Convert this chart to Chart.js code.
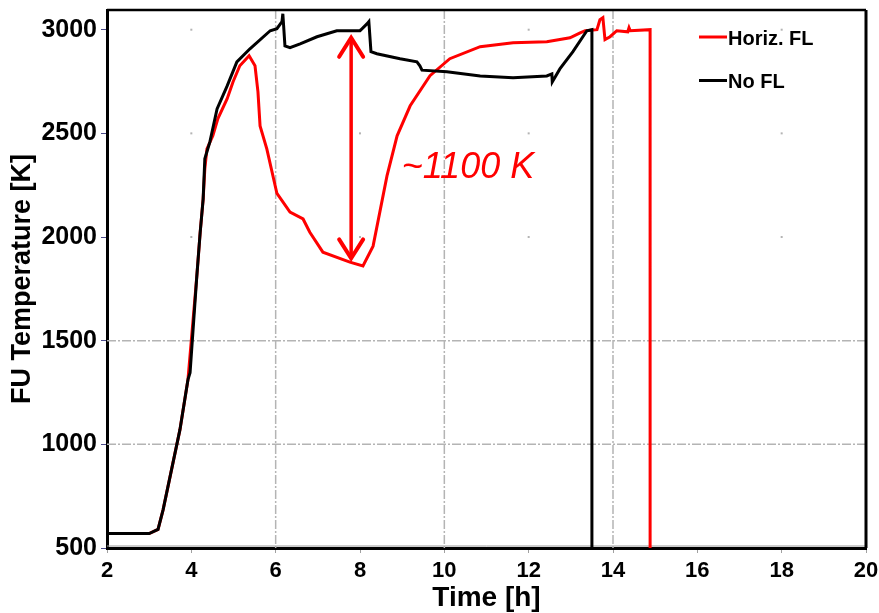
<!DOCTYPE html>
<html>
<head>
<meta charset="utf-8">
<script src="https://cdn.jsdelivr.net/npm/chart.js@4.4.0/dist/chart.umd.min.js"></script>
<style>
  html, body { margin: 0; padding: 0; background: #fff; }
</style>
</head>
<body>
<canvas id="c" width="879" height="613"></canvas>
<script>
// series: time [h] / fuel temperature [K]
const timeNoFL = [2, 3.0, 3.21, 3.33, 3.73, 3.92, 3.97, 4.13, 4.21, 4.28, 4.32, 4.44, 4.61, 4.85, 5.08,
  5.39, 5.87, 6.03, 6.15, 6.17, 6.22, 6.34, 6.58, 6.98, 7.45, 8.0, 8.17, 8.21, 8.26, 8.40,
  8.95, 9.35, 9.42, 9.47, 10.06, 10.85, 11.63, 12.43, 12.55, 12.56, 12.74, 13.05, 13.38, 13.5, 13.5];
const tempNoFL = [570, 570, 590, 684, 1071, 1312, 1346, 1811, 2023, 2183, 2377, 2459, 2618, 2729, 2845,
  2908, 2995, 3005, 3039, 3077, 2922, 2913, 2932, 2966, 2995, 2995, 3029, 3039, 2894, 2884,
  2860, 2845, 2826, 2805, 2797, 2777, 2768, 2777, 2787, 2748, 2811, 2894, 2995, 3000, 500];

const timeHoriz = [2, 3.0, 3.21, 3.33, 3.73, 3.92, 4.13, 4.21, 4.28, 4.32, 4.37, 4.51, 4.63, 4.85, 4.99,
  5.15, 5.37, 5.51, 5.58, 5.63, 5.79, 6.03, 6.34, 6.65, 6.81, 7.12, 7.76, 8.07, 8.31, 8.47,
  8.64, 8.88, 9.19, 9.66, 10.13, 10.85, 11.63, 12.43, 12.98, 13.22, 13.34, 13.62, 13.69, 13.76, 13.81,
  13.93, 14.09, 14.35, 14.38, 14.41, 14.88, 14.88];
const tempHoriz = [570, 570, 590, 684, 1071, 1312, 1811, 2023, 2183, 2329, 2425, 2488, 2571, 2667, 2749,
  2826, 2874, 2826, 2700, 2536, 2425, 2210, 2120, 2087, 2023, 1927, 1879, 1860, 1956, 2120,
  2295, 2488, 2633, 2778, 2860, 2918, 2937, 2942, 2961, 2985, 2995, 3000, 3048, 3058, 2952,
  2966, 2995, 2990, 3010, 2995, 3000, 500];

const seriesNames = ["Horiz. FL", "No FL"];
const seriesColors = ["#ff0000", "#000000"];

// axis ticks
const xTicks = [2, 4, 6, 8, 10, 12, 14, 16, 18, 20];
const yTicks = [500, 1000, 1500, 2000, 2500, 3000];

// grid pieces visible in the picture
const gridX = [6, 10, 14];
const gridY = [1000, 1500];
const dotX = [4, 8, 12, 18];
const dotY = [2000, 2500, 3000];

// the ~1100 K gap marker
const gapTime = 7.79;
const gapTop = 2961;
const gapBottom = 1897;
const gapLabel = "~1100 K";
const gapLabelAt = [8.99, 2284];

const pts = (xs, ys) => xs.map((x, i) => ({ x: x, y: ys[i] }));

const FONT = "'Liberation Sans', Arial, sans-serif";

const decor = {
  id: "decor",
  beforeDatasetsDraw(chart) {
    const { ctx, chartArea: a, scales: { x, y } } = chart;
    ctx.save();
    ctx.strokeStyle = "#b4b4b4";
    ctx.lineWidth = 1.5;
    ctx.setLineDash([9, 2, 2, 2]);
    for (const v of gridX) {
      const px = x.getPixelForValue(v);
      ctx.beginPath(); ctx.moveTo(px, a.top); ctx.lineTo(px, a.bottom); ctx.stroke();
    }
    for (const v of gridY) {
      const py = y.getPixelForValue(v);
      ctx.beginPath(); ctx.moveTo(a.left, py); ctx.lineTo(a.right, py); ctx.stroke();
    }
    ctx.setLineDash([]);
    ctx.fillStyle = "#b4b4b4";
    for (const vx of dotX) for (const vy of dotY) {
      ctx.fillRect(x.getPixelForValue(vx) - 1, y.getPixelForValue(vy) - 1, 2, 2);
    }
    // thin gray line sitting on the bottom axis
    ctx.strokeStyle = "#9a9a9a";
    ctx.lineWidth = 1;
    ctx.beginPath(); ctx.moveTo(a.left, a.bottom - 2); ctx.lineTo(a.right, a.bottom - 2); ctx.stroke();
    ctx.restore();
  },
  afterDatasetsDraw(chart) {
    const { ctx, chartArea: a, scales: { x, y } } = chart;
    ctx.save();
    // frame top + right
    ctx.strokeStyle = "#000";
    ctx.lineWidth = 2.5;
    ctx.beginPath(); ctx.moveTo(a.left, a.top); ctx.lineTo(a.right, a.top); ctx.stroke();
    ctx.lineWidth = 3;
    ctx.beginPath(); ctx.moveTo(a.right, a.top); ctx.lineTo(a.right, a.bottom); ctx.stroke();

    // double arrow
    const ax = x.getPixelForValue(gapTime);
    const t = y.getPixelForValue(gapTop);
    const b = y.getPixelForValue(gapBottom);
    ctx.strokeStyle = "#ff0000";
    ctx.lineCap = "round";
    ctx.lineWidth = 3.5;
    ctx.beginPath(); ctx.moveTo(ax, t + 2); ctx.lineTo(ax, b - 2); ctx.stroke();
    ctx.lineWidth = 4;
    ctx.beginPath();
    ctx.moveTo(ax - 12, t + 19); ctx.lineTo(ax, t); ctx.lineTo(ax + 12, t + 19);
    ctx.moveTo(ax - 12, b - 19); ctx.lineTo(ax, b); ctx.lineTo(ax + 12, b - 19);
    ctx.stroke();

    ctx.fillStyle = "#ff0000";
    ctx.font = "italic 36px " + FONT;
    ctx.textAlign = "left";
    ctx.textBaseline = "alphabetic";
    ctx.fillText(gapLabel, x.getPixelForValue(gapLabelAt[0]), y.getPixelForValue(gapLabelAt[1]));

    // legend
    ctx.lineCap = "butt";
    ctx.font = "bold 20px " + FONT;
    ctx.textBaseline = "middle";
    seriesNames.forEach((name, i) => {
      const ly = 37 + i * 43.5;
      ctx.strokeStyle = seriesColors[i];
      ctx.lineWidth = 3;
      ctx.beginPath(); ctx.moveTo(699, ly); ctx.lineTo(727, ly); ctx.stroke();
      ctx.fillStyle = "#000";
      ctx.fillText(name, 728, ly + 2);
    });
    ctx.restore();
  }
};

new Chart(document.getElementById("c"), {
  type: "line",
  data: {
    datasets: [
      {
        label: seriesNames[1],
        data: pts(timeNoFL, tempNoFL),
        borderColor: seriesColors[1],
        borderWidth: 3,
        pointRadius: 0,
        tension: 0,
        fill: false,
        order: 0
      },
      {
        label: seriesNames[0],
        data: pts(timeHoriz, tempHoriz),
        borderColor: seriesColors[0],
        borderWidth: 3,
        pointRadius: 0,
        tension: 0,
        fill: false,
        order: 1
      }
    ]
  },
  options: {
    responsive: false,
    animation: false,
    layout: { padding: { top: 10, right: 13, left: 0, bottom: 0 } },
    plugins: { legend: { display: false }, tooltip: { enabled: false } },
    scales: {
      x: {
        type: "linear",
        min: 2,
        max: 20,
        afterBuildTicks: s => { s.ticks = xTicks.map(v => ({ value: v })); },
        afterFit: s => { s.height = 65; s.paddingLeft = 0; s.paddingRight = 0; },
        ticks: {
          autoSkip: false,
          color: "#000",
          padding: 5,
          maxRotation: 0,
          font: { family: FONT, size: 22, weight: "bold" },
          callback: v => String(v)
        },
        grid: { display: true, drawOnChartArea: false, drawTicks: true, tickLength: 5, tickColor: "#a0a0a0" },
        border: { color: "#000", width: 3 },
        title: {
          display: true,
          text: "Time [h]",
          color: "#000",
          padding: { top: 0, bottom: 1 },
          font: { family: FONT, size: 28, weight: "bold", lineHeight: 1 }
        }
      },
      y: {
        type: "linear",
        min: 500,
        max: 3095,
        afterBuildTicks: s => { s.ticks = yTicks.map(v => ({ value: v })); },
        afterFit: s => { s.width = 107; s.paddingTop = 0; s.paddingBottom = 0; },
        ticks: {
          autoSkip: false,
          color: "#000",
          padding: 4,
          font: { family: FONT, size: 25, weight: "bold" },
          callback: v => String(v)
        },
        grid: { display: true, drawOnChartArea: false, drawTicks: true, tickLength: 6, tickColor: "#4a4a8a" },
        border: { color: "#000", width: 3 },
        title: {
          display: true,
          text: "FU Temperature [K]",
          color: "#000",
          padding: { top: 9, bottom: 0 },
          font: { family: FONT, size: 27, weight: "bold", lineHeight: 1 }
        }
      }
    }
  },
  plugins: [decor]
});
</script>
</body>
</html>
